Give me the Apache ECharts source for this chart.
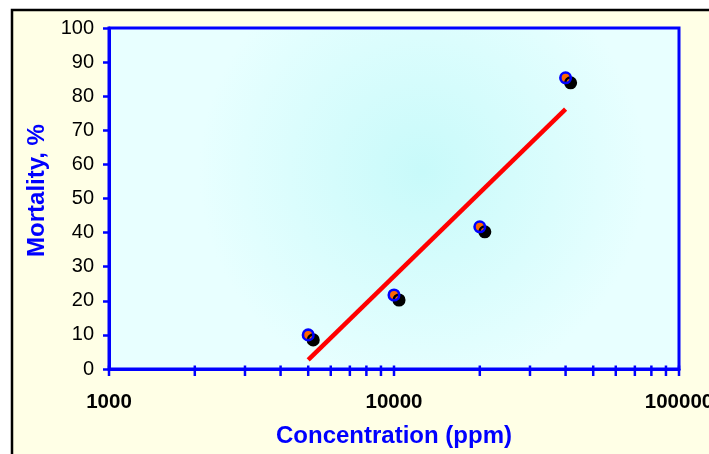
<!DOCTYPE html>
<html>
<head>
<meta charset="utf-8">
<script src="https://cdn.jsdelivr.net/npm/echarts@6/dist/echarts.min.js"></script>
<style>html,body{margin:0;padding:0;background:#fff;}#c{width:709px;height:454px;}</style>
</head>
<body>
<div id="c"></div>
<script>
// Data
const concentrations = [5000, 10000, 20000, 40000];
const mortality = [10.0, 21.7, 41.7, 85.4];
const fitX = [5000, 40000];
const fitY = [2.7, 76.2];
const xTickValues = [1000,2000,3000,4000,5000,6000,7000,8000,9000,10000,20000,30000,40000,50000,60000,70000,80000,90000,100000];
const xAxisTitle = 'Concentration (ppm)';
const yAxisTitle = 'Mortality, %';

const FONT = '"Liberation Sans", Arial, sans-serif';
const BLUE = '#0000FF';

const chart = echarts.init(document.getElementById('c'), null, {renderer: 'canvas'});
chart.setOption({
  backgroundColor: '#FFFFE6',
  animation: false,
  graphic: [
    {type: 'rect', shape: {x: 0, y: 0, width: 709, height: 9}, style: {fill: '#fff'}, silent: true},
    {type: 'rect', shape: {x: 0, y: 0, width: 11, height: 454}, style: {fill: '#fff'}, silent: true},
    {type: 'rect', shape: {x: 12, y: 10, width: 720, height: 470}, style: {fill: 'none', stroke: '#000', lineWidth: 2.5}, silent: true}
  ],
  grid: {
    left: 109, top: 28, right: 30, bottom: 85,
    outerBoundsMode: 'none',
    containLabel: false,
    show: true,
    borderColor: BLUE, borderWidth: 3,
    backgroundColor: new echarts.graphic.RadialGradient(0.55, 0.42, 0.65, [
      {offset: 0, color: '#C8FAFA'},
      {offset: 1, color: '#E8FFFF'}
    ])
  },
  xAxis: {
    type: 'log', logBase: 10, min: 1000, max: 100000,
    name: xAxisTitle, nameLocation: 'middle', nameGap: 55,
    nameTextStyle: {color: BLUE, fontSize: 24, fontWeight: 'bold', fontFamily: FONT},
    axisLine: {show: true, lineStyle: {color: BLUE, width: 3}},
    axisTick: {show: false},
    splitLine: {show: false},
    minorTick: {show: false},
    axisLabel: {
      color: '#000', fontSize: 20.5, fontWeight: 'bold', fontFamily: FONT, margin: 23,
      showMaxLabel: true, showMinLabel: true, hideOverlap: false,
      formatter: v => String(Math.round(v))
    }
  },
  yAxis: {
    type: 'value', min: 0, max: 100, interval: 10,
    name: yAxisTitle, nameLocation: 'middle', nameGap: 60, nameRotate: 90,
    nameTextStyle: {color: BLUE, fontSize: 24, fontWeight: 'bold', fontFamily: FONT, padding: [0, 0, 0, 16]},
    axisLine: {show: true, lineStyle: {color: BLUE, width: 3}},
    axisTick: {show: true, inside: false, length: 6, lineStyle: {color: BLUE, width: 2.5}},
    splitLine: {show: false},
    axisLabel: {color: '#000', fontSize: 20, fontFamily: FONT, margin: 15}
  },
  series: [
    {
      type: 'custom',
      silent: true,
      clip: false,
      z: 5,
      data: xTickValues.map(v => [v, 0]),
      renderItem: function (params, api) {
        const p = api.coord([api.value(0), 0]);
        return {
          type: 'line',
          shape: {x1: p[0], y1: p[1] - 3.5, x2: p[0], y2: p[1] + 7},
          style: {stroke: BLUE, lineWidth: 2.5}
        };
      }
    },
    {
      type: 'line',
      data: fitX.map((x, i) => [x, fitY[i]]),
      symbol: 'none',
      lineStyle: {color: '#FF0000', width: 4.5, cap: 'butt'},
      z: 3
    },
    {
      type: 'scatter',
      data: concentrations.map((x, i) => [x, mortality[i]]),
      symbol: 'circle',
      symbolSize: 10.5,
      itemStyle: {
        color: '#FF6600', borderColor: BLUE, borderWidth: 2.6, opacity: 1,
        shadowColor: '#000', shadowBlur: 0, shadowOffsetX: 5, shadowOffsetY: 5
      },
      z: 4
    }
  ]
});
</script>
</body>
</html>
